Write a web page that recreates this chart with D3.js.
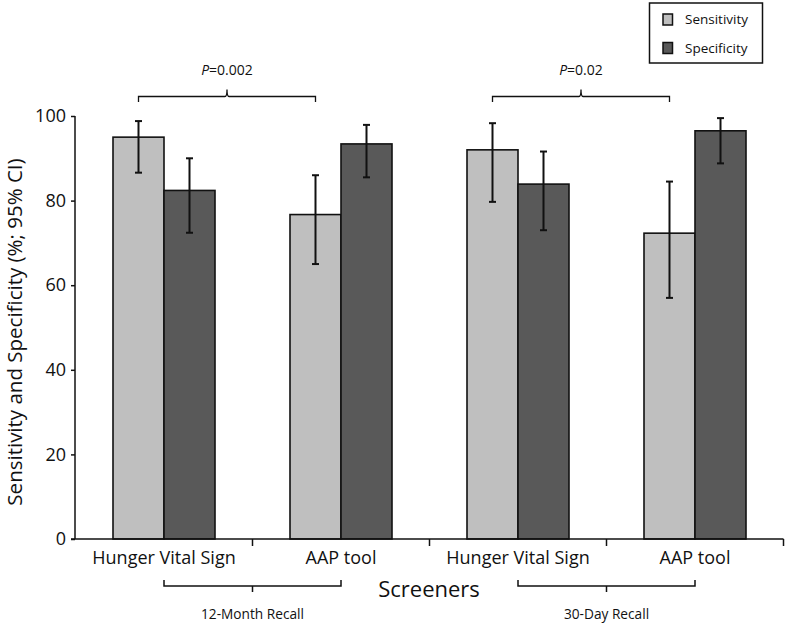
<!DOCTYPE html>
<html><head><meta charset="utf-8">
<script src="https://cdn.jsdelivr.net/npm/d3@7"></script>
<style>body{margin:0;background:#fff}svg{display:block}text{font-family:"Open Sans",sans-serif;fill:#111}</style>
</head><body>
<script>
const categories = ["Hunger Vital Sign","AAP tool","Hunger Vital Sign","AAP tool"];
const series = ["Sensitivity","Specificity"];
const sensitivity = [95.0, 76.7, 92.0, 72.3];
const sensLow = [86.6, 65.0, 79.7, 57.0];
const sensHigh = [98.8, 86.0, 98.3, 84.5];
const specificity = [82.4, 93.4, 83.9, 96.5];
const specLow = [72.4, 85.5, 73.0, 88.8];
const specHigh = [90.0, 97.9, 91.6, 99.5];
const yTicks = [0,20,40,60,80,100];
const recallGroups = ["12-Month Recall","30-Day Recall"];
const pValues = ["0.002","0.02"];
const colors = {Sensitivity:"#bfbfbf", Specificity:"#595959"};

const W=787,H=625;
const svg=d3.select("body").append("svg").attr("width",W).attr("height",H);
const axisX=75, y0=539;
const y=d3.scaleLinear().domain([0,100]).range([539,116]);
const x=d3.scaleBand().domain(d3.range(categories.length)).range([75.5,783.5]);
const xs=d3.scaleBand().domain(series).range([0,102]);
const off=(x.bandwidth()-102)/2;

const rows=[];
categories.forEach((c,i)=>{
  rows.push({i,s:"Sensitivity",v:sensitivity[i],lo:sensLow[i],hi:sensHigh[i]});
  rows.push({i,s:"Specificity",v:specificity[i],lo:specLow[i],hi:specHigh[i]});
});
const bx=d=>x(d.i)+off+xs(d.s);

svg.selectAll("rect.bar").data(rows).join("rect").attr("class","bar")
  .attr("x",d=>bx(d)).attr("y",d=>y(d.v)).attr("width",xs.bandwidth()).attr("height",d=>y0-y(d.v))
  .attr("fill",d=>colors[d.s]).attr("stroke","#111").attr("stroke-width",1.6);

// error bars
const eg=svg.append("g").attr("stroke","#111").attr("stroke-width",2);
rows.forEach(d=>{
  const cx=bx(d)+xs.bandwidth()/2;
  eg.append("line").attr("x1",cx).attr("x2",cx).attr("y1",y(d.lo)).attr("y2",y(d.hi));
  eg.append("line").attr("x1",cx-3.5).attr("x2",cx+3.5).attr("y1",y(d.lo)).attr("y2",y(d.lo));
  eg.append("line").attr("x1",cx-3.5).attr("x2",cx+3.5).attr("y1",y(d.hi)).attr("y2",y(d.hi));
});

// y axis
const yAxis=d3.axisLeft(y).tickValues(yTicks).tickSize(4).tickPadding(5);
const ya=svg.append("g").attr("transform",`translate(${axisX},0)`).call(yAxis);
ya.select(".domain").attr("stroke","#111").attr("stroke-width",1.5).attr("d",`M0,${y(100)}V${y0}`);
ya.selectAll(".tick line").attr("stroke","#111").attr("stroke-width",1.5);
ya.selectAll(".tick text").style("font-size","18px").attr("fill","#111");

// x axis
const xg=svg.append("g");
xg.append("line").attr("x1",axisX-4).attr("x2",783.5).attr("y1",y0).attr("y2",y0).attr("stroke","#111").attr("stroke-width",1.5);
x.domain().slice(1).concat([categories.length]).forEach(i=>{
  const xx = i<categories.length ? x(i) : x(i-1)+x.bandwidth();
  xg.append("line").attr("x1",xx).attr("x2",xx).attr("y1",y0).attr("y2",y0+7).attr("stroke","#111").attr("stroke-width",1.5);
});
xg.selectAll("text.cat").data(categories).join("text").attr("class","cat")
  .attr("x",(d,i)=>x(i)+x.bandwidth()/2).attr("y",564).attr("text-anchor","middle").style("font-size","18px").text(d=>d);

svg.append("text").attr("x",429).attr("y",597).attr("text-anchor","middle").style("font-size","22px").text("Screeners");
svg.append("text").attr("transform","translate(22,332) rotate(-90)").attr("text-anchor","middle").style("font-size","20.5px")
  .text("Sensitivity and Specificity (%; 95% CI)");

// recall brackets
recallGroups.forEach((g,k)=>{
  const a=x(2*k)+x.bandwidth()/2, b=x(2*k+1)+x.bandwidth()/2, m=x(2*k+1);
  const gg=svg.append("g").attr("stroke","#111").attr("stroke-width",1.5).attr("fill","none");
  gg.append("path").attr("d",`M${a},580V586H${b}V580M${m},586V592`);
  svg.append("text").attr("x",m).attr("y",619).attr("text-anchor","middle").style("font-size","13.7px").text(g);
});

// p-value brackets
pValues.forEach((p,k)=>{
  const a=x(2*k)+off+xs("Sensitivity")+xs.bandwidth()/2, b=x(2*k+1)+off+xs("Sensitivity")+xs.bandwidth()/2, m=(a+b)/2;
  svg.append("path").attr("d",`M${a},102V96.5H${m-2}Q${m},96.5 ${m},89.5Q${m},96.5 ${m+2},96.5H${b}V102`)
    .attr("stroke","#111").attr("stroke-width",1.3).attr("fill","none");
  const t=svg.append("text").attr("x",m).attr("y",75).attr("text-anchor","middle").style("font-size","14px");
  t.append("tspan").style("font-style","italic").text("P");
  t.append("tspan").text("=" + p);
});

// legend
const lg=svg.append("g");
lg.append("rect").attr("x",649.5).attr("y",3).attr("width",113).attr("height",60).attr("fill","#fff").attr("stroke","#111").attr("stroke-width",1.5);
series.forEach((s,k)=>{
  lg.append("rect").attr("x",663).attr("y",14+k*28.5).attr("width",9.5).attr("height",11).attr("fill",colors[s]).attr("stroke","#111").attr("stroke-width",1.5);
  lg.append("text").attr("x",685).attr("y",24+k*28.5).style("font-size","13.5px").text(s);
});
</script>
</body></html>
